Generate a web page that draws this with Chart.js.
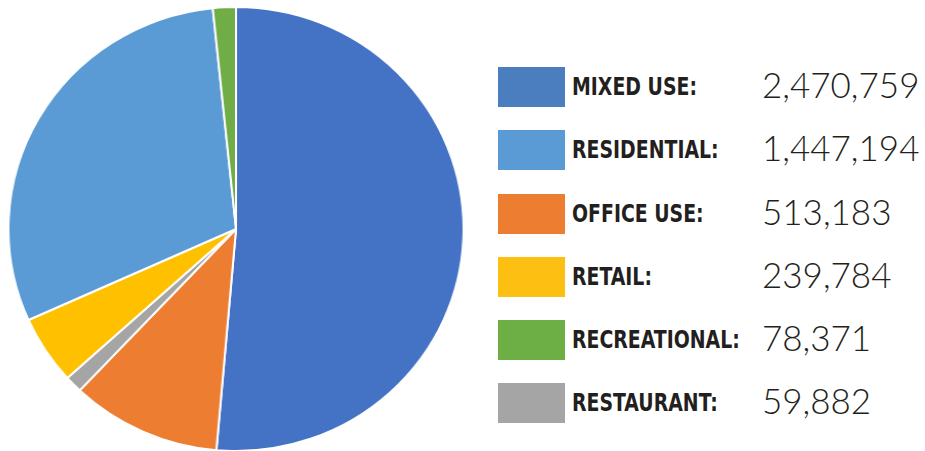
<!DOCTYPE html>
<html>
<head>
<meta charset="utf-8">
<script src="https://cdn.jsdelivr.net/npm/chart.js@4"></script>
<style>
  body { margin: 0; background: #fff; width: 925px; height: 451px; overflow: hidden; position: relative; }
  #pieBox { position: absolute; left: 13px; top: 6px; width: 446px; height: 446px; transform: scaleX(1.025); }
  .row { position: absolute; left: 498px; height: 40px; width: 427px; }
  .sw { position: absolute; left: 0; top: 0; width: 67px; height: 40px; }
  .lab { position: absolute; left: 74px; top: 0; line-height: 40px; font-family: "Liberation Sans Narrow", "DejaVu Sans Condensed", sans-serif; font-weight: bold; font-size: 25px; color: #231f20; white-space: nowrap; transform: scaleX(0.84); transform-origin: 0 50%; }
  .num { position: absolute; left: 264px; top: -3px; line-height: 40px; font-family: Lato, "Open Sans", sans-serif; font-weight: 300; font-size: 35px; color: #231f20; white-space: nowrap; }
</style>
</head>
<body>
<div id="pieBox"><canvas id="pie" width="446" height="446"></canvas></div>
<div id="legend"></div>
<script>
// slices in drawing order (clockwise from 12 o'clock)
const categories = ['MIXED USE', 'OFFICE USE', 'RESTAURANT', 'RETAIL', 'RESIDENTIAL', 'RECREATIONAL'];
const values = [2470759, 513183, 59882, 239784, 1447194, 78371];
const sliceColors = ['#4472c4', '#ed7d31', '#a5a5a5', '#ffc000', '#5b9bd5', '#70ad47'];

// legend order and swatch colours
const legendOrder = ['MIXED USE', 'RESIDENTIAL', 'OFFICE USE', 'RETAIL', 'RECREATIONAL', 'RESTAURANT'];
const legendColors = ['#4a7ebf', '#5b9bd5', '#ed7d31', '#fdbf12', '#6daf44', '#a5a5a5'];
const legendTops = [67, 130, 194, 257, 320, 383];

let legend = document.getElementById('legend');
for (let i = 0; i < legendOrder.length; i++) {
    let idx = categories.indexOf(legendOrder[i]);
    let row = document.createElement('div');
    row.className = 'row';
    row.style.top = legendTops[i] + 'px';
    row.innerHTML = '<div class="sw" style="background:' + legendColors[i] + '"></div>' +
        '<div class="lab">' + legendOrder[i] + ':</div>' +
        '<div class="num">' + values[idx].toLocaleString('en-US') + '</div>';
    legend.appendChild(row);
}

new Chart(document.getElementById('pie'), {
    type: 'pie',
    data: {
        labels: categories,
        datasets: [{
            data: values,
            backgroundColor: sliceColors,
            borderColor: '#ffffff',
            borderWidth: 2
        }]
    },
    options: {
        responsive: false,
        animation: false,
        layout: { padding: 0 },
        plugins: {
            legend: { display: false },
            tooltip: { enabled: false }
        }
    }
});
</script>
</body>
</html>
